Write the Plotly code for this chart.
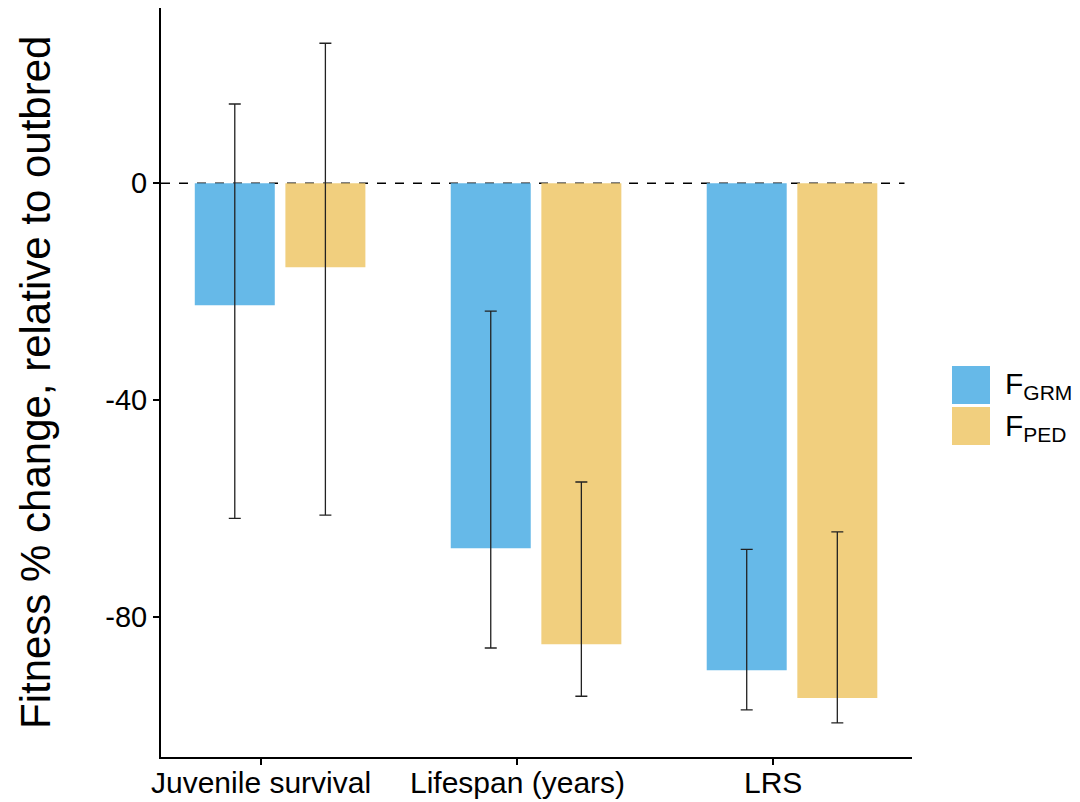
import plotly.graph_objects as go

categories = ["Juvenile survival", "Lifespan (years)", "LRS"]
grm_values = [-22.5, -67.3, -89.8]
grm_upper = [14.6, -23.6, -67.5]
grm_lower = [-61.8, -85.7, -97.1]
ped_values = [-15.5, -85.0, -94.9]
ped_upper = [25.8, -55.1, -64.3]
ped_lower = [-61.2, -94.6, -99.5]
y_ticks = [0, -40, -80]

blue = "#66B9E8"
gold = "#F1CF7E"
font = "Liberation Sans, Arial, sans-serif"

def err(vals, up, lo):
    return dict(type="data", symmetric=False,
                array=[u - v for u, v in zip(up, vals)],
                arrayminus=[v - l for v, l in zip(vals, lo)],
                color="#222222", thickness=1.3, width=6)

BAR_W = 0.3125
fig = go.Figure()
fig.add_trace(go.Bar(x=categories, y=grm_values, marker_color=blue, marker_line_width=0,
                     name="GRM", offset=-0.259, width=BAR_W,
                     error_y=err(grm_values, grm_upper, grm_lower)))
fig.add_trace(go.Bar(x=categories, y=ped_values, marker_color=gold, marker_line_width=0,
                     name="PED", offset=0.095, width=BAR_W,
                     error_y=err(ped_values, ped_upper, ped_lower)))

fig.add_shape(type="line", xref="paper", yref="y", x0=0, x1=0.99, y0=0, y1=0,
              line=dict(color="black", width=1.5, dash="dash"), layer="below")

# page body has an 8px margin: figure pixel = window pixel - 8
OFF = 8
W, H = 1080 - OFF, 802 - OFF
L, R, T, B = 161 - OFF, W - (912 - OFF), 8 - OFF, H - (757 - OFF)
pw, ph = W - L - R, H - T - B
def px_x(x): return (x - OFF - L) / pw
def px_y(y): return 1 - (y - OFF - T) / ph

legend_items = [("F<sub>GRM</sub>", blue), ("F<sub>PED</sub>", gold)]
for i, (lab, col) in enumerate(legend_items):
    y0 = 366 + i * 41
    fig.add_shape(type="rect", xref="paper", yref="paper",
                  x0=px_x(952), x1=px_x(990), y0=px_y(y0 + 38), y1=px_y(y0),
                  fillcolor=col, line_width=0)
    fig.add_annotation(xref="paper", yref="paper", x=px_x(1003), y=px_y(y0 + 20),
                       text=lab, showarrow=False, xanchor="left", yanchor="middle",
                       font=dict(family=font, size=30, color="black"))

fig.add_annotation(xref="paper", yref="paper", x=px_x(35), y=px_y(383),
                   text="Fitness % change, relative to outbred", textangle=-90,
                   showarrow=False, xanchor="center", yanchor="middle",
                   font=dict(family=font, size=42, color="black"))

# category labels under the x axis
for c in categories:
    fig.add_annotation(xref="x", yref="paper", x=c, y=px_y(764),
                       text=c, showarrow=False, xanchor="center", yanchor="top",
                       font=dict(family=font, size=30, color="black"))

fig.update_layout(
    width=W, height=H,
    margin=dict(l=L, r=R, t=T, b=B, autoexpand=False),
    plot_bgcolor="white", paper_bgcolor="white",
    barmode="overlay",
    showlegend=False,
    font=dict(family=font, color="black"),
    xaxis=dict(range=[-0.391, 2.543], showline=True, linecolor="black", linewidth=2,
               ticks="outside", ticklen=6, tickcolor="black", tickwidth=1.5,
               showticklabels=False, showgrid=False, zeroline=False,
               automargin=False),
    yaxis=dict(range=[-105.8, 32.3], showline=True, linecolor="black", linewidth=2,
               ticks="outside", ticklen=6, tickcolor="black", tickwidth=1.5,
               tickvals=y_ticks, ticktext=[str(v) for v in y_ticks],
               tickfont=dict(size=29, color="black"), showgrid=False, zeroline=False,
               automargin=False),
)

fig.write_html("out.html")
